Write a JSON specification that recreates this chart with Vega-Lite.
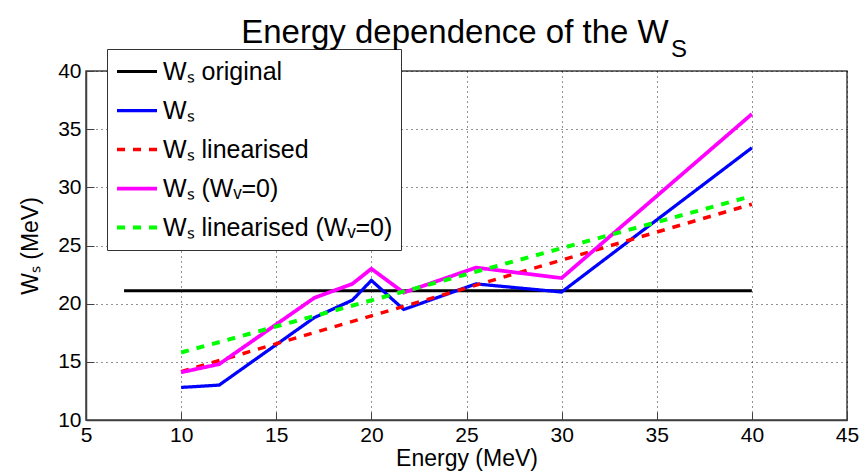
{
  "$schema": "https://vega.github.io/schema/vega-lite/v6.json",
  "width": 761,
  "height": 349,
  "autosize": {"type": "none"},
  "padding": {"left": 86, "top": 71, "right": 12, "bottom": 54},
  "background": "white",
  "config": {
    "font": "Liberation Sans",
    "view": {"stroke": "#404040", "strokeWidth": 1.5}
  },
  "title": {
    "text": "Energy dependence of the W\u00a0\u00a0\u200b",
    "subtitle": "S",
    "anchor": "end",
    "frame": "group",
    "dx": -160,
    "offset": -13,
    "font": "Liberation Sans",
    "fontSize": 33,
    "fontWeight": "normal",
    "color": "black",
    "subtitleFont": "Liberation Sans",
    "subtitleFontSize": 24,
    "subtitleColor": "black",
    "subtitlePadding": -12
  },
  "data": {
    "values": [
      {"series": "Wₛ original", "energy": 7, "ws": 21.1},
      {"series": "Wₛ original", "energy": 40, "ws": 21.1},
      {"series": "Wₛ", "energy": 10, "ws": 12.8},
      {"series": "Wₛ", "energy": 12, "ws": 13.0},
      {"series": "Wₛ", "energy": 17, "ws": 18.8},
      {"series": "Wₛ", "energy": 19, "ws": 20.3},
      {"series": "Wₛ", "energy": 20, "ws": 22.0},
      {"series": "Wₛ", "energy": 21.7, "ws": 19.5},
      {"series": "Wₛ", "energy": 25.5, "ws": 21.7},
      {"series": "Wₛ", "energy": 30, "ws": 21.0},
      {"series": "Wₛ", "energy": 40, "ws": 33.4},
      {"series": "Wₛ linearised", "energy": 10, "ws": 14.15},
      {"series": "Wₛ linearised", "energy": 40, "ws": 28.55},
      {"series": "Wₛ (Wᵥ=0)", "energy": 10, "ws": 14.1},
      {"series": "Wₛ (Wᵥ=0)", "energy": 12, "ws": 14.8},
      {"series": "Wₛ (Wᵥ=0)", "energy": 17, "ws": 20.5},
      {"series": "Wₛ (Wᵥ=0)", "energy": 19, "ws": 21.7},
      {"series": "Wₛ (Wᵥ=0)", "energy": 20, "ws": 23.0},
      {"series": "Wₛ (Wᵥ=0)", "energy": 21.7, "ws": 20.95},
      {"series": "Wₛ (Wᵥ=0)", "energy": 25.5, "ws": 23.1},
      {"series": "Wₛ (Wᵥ=0)", "energy": 30, "ws": 22.2},
      {"series": "Wₛ (Wᵥ=0)", "energy": 40, "ws": 36.3},
      {"series": "Wₛ linearised (Wᵥ=0)", "energy": 10, "ws": 15.8},
      {"series": "Wₛ linearised (Wᵥ=0)", "energy": 40, "ws": 29.25}
    ]
  },
  "mark": {"type": "line", "clip": false},
  "encoding": {
    "x": {
      "field": "energy",
      "type": "quantitative",
      "scale": {"domain": [5, 45], "nice": false, "zero": false},
      "axis": {
        "title": "Energy (MeV)",
        "values": [5, 10, 15, 20, 25, 30, 35, 40, 45],
        "grid": true,
        "gridDash": [1, 4],
        "gridColor": "black",
        "gridOpacity": 0.85,
        "domainColor": "#404040",
        "domainWidth": 1.5,
        "tickColor": "#404040",
        "tickSize": -8,
        "labelPadding": 12,
        "labelFlush": false,
        "labelOverlap": false,
        "labelFont": "Liberation Sans",
        "labelFontSize": 21,
        "labelColor": "black",
        "titleFont": "Liberation Sans",
        "titleFontSize": 23,
        "titleFontWeight": "normal",
        "titleColor": "black",
        "titlePadding": 2
      }
    },
    "y": {
      "field": "ws",
      "type": "quantitative",
      "scale": {"domain": [10, 40], "nice": false, "zero": false},
      "axis": {
        "title": "Wₛ (MeV)",
        "values": [10, 15, 20, 25, 30, 35, 40],
        "grid": true,
        "gridDash": [1, 4],
        "gridColor": "black",
        "gridOpacity": 0.85,
        "domainColor": "#404040",
        "domainWidth": 1.5,
        "tickColor": "#404040",
        "tickSize": -8,
        "labelPadding": 13,
        "labelFlush": false,
        "labelOverlap": false,
        "labelFont": "Liberation Sans",
        "labelFontSize": 21,
        "labelColor": "black",
        "titleFont": "Liberation Sans",
        "titleFontSize": 23,
        "titleFontWeight": "normal",
        "titleColor": "black",
        "titlePadding": 15
      }
    },
    "color": {
      "field": "series",
      "type": "nominal",
      "title": null,
      "scale": {
        "domain": ["Wₛ original", "Wₛ", "Wₛ linearised", "Wₛ (Wᵥ=0)", "Wₛ linearised (Wᵥ=0)"],
        "range": ["#000000", "#0000ff", "#ff0000", "#ff00ff", "#00ff00"]
      },
      "legend": {
        "orient": "none",
        "legendX": 21,
        "legendY": -22,
        "direction": "vertical",
        "symbolType": "stroke",
        "symbolSize": 1600,
        "labelFont": "Liberation Sans",
        "labelFontSize": 25,
        "labelColor": "black",
        "labelOffset": 4,
        "labelLimit": 400,
        "strokeColor": "#333333",
        "fillColor": "white",
        "padding": 8,
        "rowPadding": 10,
        "clipHeight": 29
      }
    },
    "strokeDash": {
      "field": "series",
      "type": "nominal",
      "title": null,
      "scale": {
        "domain": ["Wₛ original", "Wₛ", "Wₛ linearised", "Wₛ (Wᵥ=0)", "Wₛ linearised (Wᵥ=0)"],
        "range": [[1, 0], [1, 0], [8, 8], [1, 0], [8, 8]]
      },
      "legend": {
        "orient": "none",
        "legendX": 21,
        "legendY": -22,
        "direction": "vertical",
        "symbolType": "stroke",
        "symbolSize": 1600,
        "labelFont": "Liberation Sans",
        "labelFontSize": 25,
        "labelColor": "black",
        "labelOffset": 4,
        "labelLimit": 400,
        "strokeColor": "#333333",
        "fillColor": "white",
        "padding": 8,
        "rowPadding": 10,
        "clipHeight": 29
      }
    },
    "strokeWidth": {
      "field": "series",
      "type": "nominal",
      "title": null,
      "scale": {
        "domain": ["Wₛ original", "Wₛ", "Wₛ linearised", "Wₛ (Wᵥ=0)", "Wₛ linearised (Wᵥ=0)"],
        "range": [3, 4, 4.5, 4, 4.5]
      },
      "legend": {
        "orient": "none",
        "legendX": 21,
        "legendY": -22,
        "direction": "vertical",
        "symbolType": "stroke",
        "symbolSize": 1600,
        "labelFont": "Liberation Sans",
        "labelFontSize": 25,
        "labelColor": "black",
        "labelOffset": 4,
        "labelLimit": 400,
        "strokeColor": "#333333",
        "fillColor": "white",
        "padding": 8,
        "rowPadding": 10,
        "clipHeight": 29
      }
    }
  }
}
